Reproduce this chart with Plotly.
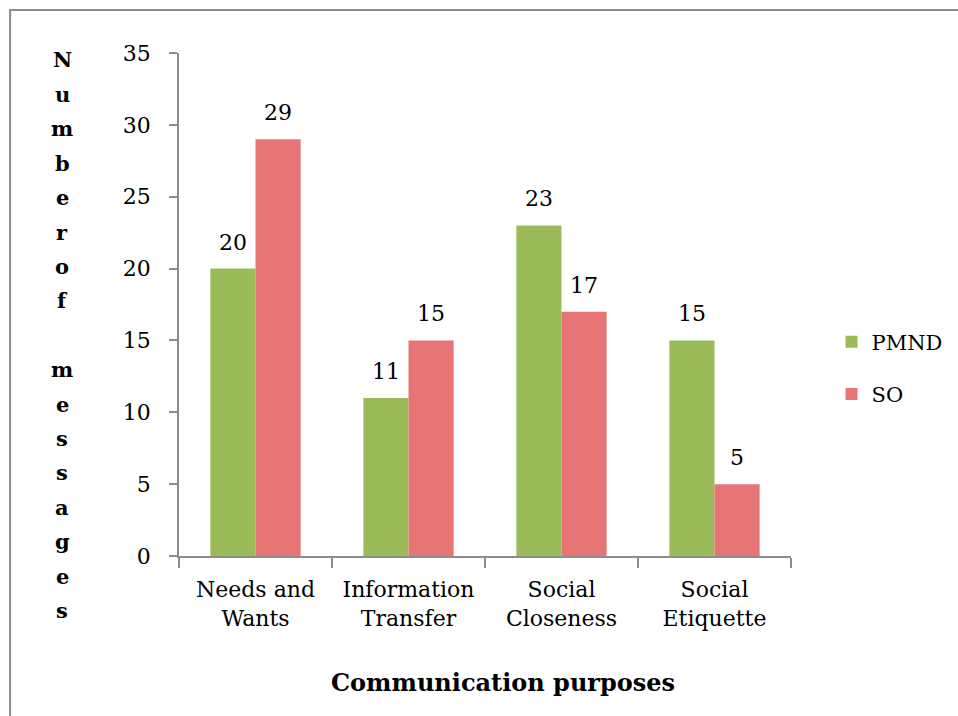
import plotly.graph_objects as go

categories = ["Needs and<br>Wants", "Information<br>Transfer", "Social<br>Closeness", "Social<br>Etiquette"]
pmnd = [20, 11, 23, 15]
so = [29, 15, 17, 5]
y_ticks = [0, 5, 10, 15, 20, 25, 30, 35]
y_title_letters = list("Numberof") + [""] + list("messages")

FONT = "DejaVu Serif"
AX = "#8c8c8c"
series = [("PMND", pmnd, "#9BBB59", "a"), ("SO", so, "#E87575", "b")]

fig = go.Figure()
for name, vals, color, grp in series:
    fig.add_trace(go.Bar(
        x=categories, y=vals, name=name, legendgroup=grp,
        offsetgroup=grp, alignmentgroup="g",
        marker=dict(color=color, line=dict(width=0)),
    ))
for name, vals, color, grp in series:
    fig.add_trace(go.Scatter(
        x=categories, y=vals, mode="markers+text", text=vals,
        textposition="top center", showlegend=False, hoverinfo="skip",
        offsetgroup=grp, alignmentgroup="g", cliponaxis=False,
        marker=dict(size=20, color="rgba(0,0,0,0)"),
        textfont=dict(family=FONT, size=22, color="black"),
    ))

fig.update_layout(
    width=958, height=716,
    margin=dict(l=179, r=167, t=53, b=160, autoexpand=False),
    paper_bgcolor="white", plot_bgcolor="white",
    barmode="group", bargap=0.41, bargroupgap=0,
    scattermode="group", scattergap=0.41,
    font=dict(family=FONT, size=20, color="black"),
    legend=dict(xref="container", yref="container", x=0.868, y=0.486,
                xanchor="left", yanchor="middle",
                font=dict(family=FONT, size=21), tracegroupgap=22,
                itemwidth=30),
    xaxis=dict(showline=True, linecolor=AX, linewidth=1.5,
               ticks="outside", tickson="boundaries", ticklen=10,
               tickcolor=AX, tickwidth=1.5, showgrid=False,
               ticklabelstandoff=13,
               tickfont=dict(family=FONT, size=22)),
    yaxis=dict(range=[0, 35], tickvals=y_ticks, showline=True,
               linecolor=AX, linewidth=1.5, ticks="outside",
               ticklen=8, tickcolor=AX, tickwidth=1.5,
               showgrid=False, zeroline=False, ticklabelstandoff=14,
               tickfont=dict(family=FONT, size=22)),
    showlegend=True,
)

fig.add_annotation(
    text="<b>Communication purposes</b>", xref="paper", yref="paper",
    x=(503 - 179) / 612.0, y=-0.252, xanchor="center", yanchor="middle",
    showarrow=False,
    font=dict(family=FONT, size=24, color="black"),
)
for i, c in enumerate(y_title_letters):
    if not c:
        continue
    py = 60 + i * 34.4
    fig.add_annotation(
        text="<b>%s</b>" % c, xref="paper", yref="paper",
        x=(62 - 179) / 612.0, y=(556 - py) / 503.0,
        xanchor="center", yanchor="middle", showarrow=False,
        font=dict(family=FONT, size=21, color="black"),
    )
fig.add_shape(type="rect", xref="paper", yref="paper",
              x0=-0.276, y0=-0.4, x1=1.4, y1=1.0855,
              line=dict(color=AX, width=2), layer="below")

fig.write_html("out.html")
